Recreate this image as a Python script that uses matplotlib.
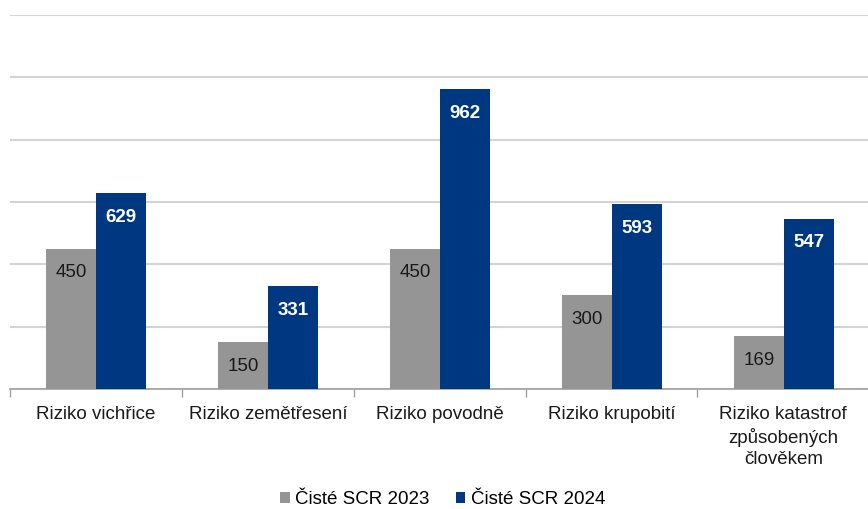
import matplotlib.pyplot as plt
import numpy as np

categories = ['Riziko vichřice', 'Riziko zemětřesení', 'Riziko povodně',
              'Riziko krupobití', 'Riziko katastrof\nzpůsobených\nčlověkem']
scr_2023 = [450, 150, 450, 300, 169]
scr_2024 = [629, 331, 962, 593, 547]
series_names = ['Čisté SCR 2023', 'Čisté SCR 2024']

plt.rcParams['font.family'] = ['Liberation Sans', 'DejaVu Sans']

gray = '#959595'
blue = '#003781'

fig = plt.figure(figsize=(8.68, 5.09), dpi=100)
ax = fig.add_axes([0.0115, 0.2358, 0.99, 0.7347])

x = np.arange(len(categories))
w = 0.29
b1 = ax.bar(x - 0.143, scr_2023, w, color=gray, label=series_names[0], zorder=3)
b2 = ax.bar(x + 0.147, scr_2024, w, color=blue, label=series_names[1], zorder=3)

for rect, v in zip(b1, scr_2023):
    ax.text(rect.get_x() + rect.get_width() / 2, v - 77, str(v),
            ha='center', va='center', fontsize=13.5, color='#1a1a1a', zorder=4)
for rect, v in zip(b2, scr_2024):
    ax.text(rect.get_x() + rect.get_width() / 2, v - 78, str(v),
            ha='center', va='center', fontsize=13.5, color='white',
            fontweight='bold', zorder=4)

ax.set_xlim(-0.5, 4.5)
ax.set_ylim(0, 1200)
ax.set_yticks(np.arange(0, 1201, 200))
ax.yaxis.grid(True, color='#d4d4d4', linewidth=1.5, zorder=0)
ax.tick_params(axis='y', left=False, labelleft=False)

ax.set_xticks(x)
ax.set_xticklabels(categories, fontsize=13.5, color='#1a1a1a', linespacing=1.35)
ax.tick_params(axis='x', length=0, pad=12)
ax.set_xticks(np.arange(-0.5, 5, 1), minor=True)
ax.tick_params(axis='x', which='minor', length=6, color='#a0a0a0', width=1)

for s in ['top', 'right', 'left']:
    ax.spines[s].set_visible(False)
ax.spines['bottom'].set_color('#a0a0a0')
ax.spines['bottom'].set_linewidth(1.2)

fig.legend(loc='lower center', bbox_to_anchor=(0.51, -0.031), ncol=2, frameon=False,
           fontsize=13.5, handlelength=0.5, handleheight=0.5, handletextpad=0.3,
           columnspacing=1.4)

fig.savefig('out.png', dpi=100)
